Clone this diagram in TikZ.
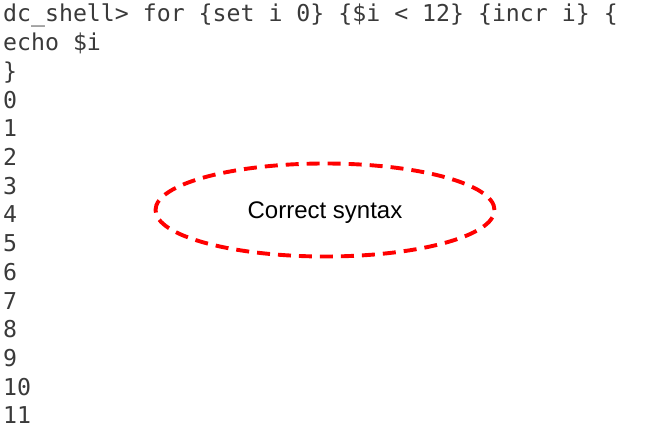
\documentclass[tikz,border=0pt]{standalone}
\usepackage{fontspec}
\setmainfont{Liberation Sans}
\newfontfamily\monofont{DejaVu Sans Mono}
\usetikzlibrary{shapes.geometric}
\definecolor{termtext}{HTML}{3A3A3A}
\definecolor{notered}{HTML}{FF0000}
\tikzset{
  termline/.style={anchor=base west, inner sep=0pt, text=termtext, font=\monofont\fontsize{23.2}{28}\selectfont},
  noteellipse/.style={ellipse, draw=notered, dashed, dash pattern=on 13pt off 8pt, line width=3.9pt,
    minimum width=339pt, minimum height=93pt, inner sep=0pt},
  notetext/.style={inner sep=0pt, font=\fontsize{24}{28}\selectfont, text=black}
}
\begin{document}
\begin{tikzpicture}[x=1pt,y=1pt]
\useasboundingbox (0,0) rectangle (650,-433);
\node[termline] (l1) at (3,-22) {dc\_shell> for \{set i 0\} \{\$i < 12\} \{incr i\} \{};
\node[termline] (l2) at (3,-50.7) {echo \$i};
\node[termline] (l3) at (3,-79.4) {\}};
\node[termline] (l4) at (3,-108.1) {0};
\node[termline] (l5) at (3,-136.8) {1};
\node[termline] (l6) at (3,-165.5) {2};
\node[termline] (l7) at (3,-194.2) {3};
\node[termline] (l8) at (3,-222.9) {4};
\node[termline] (l9) at (3,-251.6) {5};
\node[termline] (l10) at (3,-280.3) {6};
\node[termline] (l11) at (3,-309) {7};
\node[termline] (l12) at (3,-337.7) {8};
\node[termline] (l13) at (3,-366.4) {9};
\node[termline] (l14) at (3,-395.1) {10};
\node[termline] (l15) at (3,-423.8) {11};
\node[noteellipse] (note) at (325,-210) {};
\node[notetext] (label) at ([yshift=-2.5pt]note.center) {Correct syntax};
\end{tikzpicture}
\end{document}
